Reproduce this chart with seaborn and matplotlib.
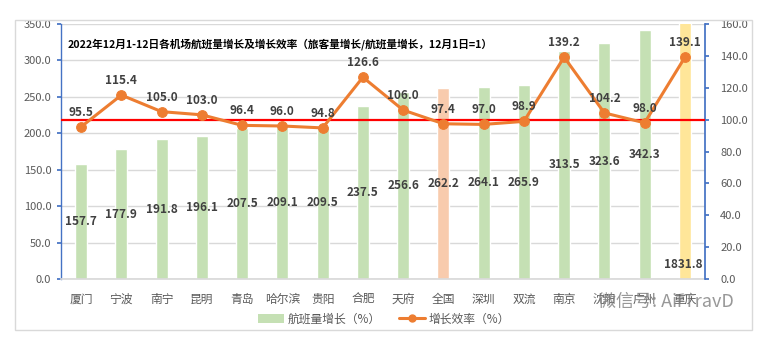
import numpy as np
import matplotlib
matplotlib.use("Agg")
import matplotlib.pyplot as plt
import seaborn as sns
from matplotlib.lines import Line2D
from matplotlib.patches import Patch, Rectangle

cities = ["厦门", "宁波", "南宁", "昆明", "青岛", "哈尔滨", "贵阳", "合肥", "天府",
          "全国", "深圳", "双流", "南京", "沈阳", "广州", "重庆"]
flight_growth = [157.7, 177.9, 191.8, 196.1, 207.5, 209.1, 209.5, 237.5, 256.6,
                 262.2, 264.1, 265.9, 313.5, 323.6, 342.3, 1831.8]
efficiency = [95.5, 115.4, 105.0, 103.0, 96.4, 96.0, 94.8, 126.6, 106.0,
              97.4, 97.0, 98.9, 139.2, 104.2, 98.0, 139.1]
left_ticks = [0, 50, 100, 150, 200, 250, 300, 350]
right_ticks = [0, 20, 40, 60, 80, 100, 120, 140, 160]
title = "2022年12月1-12日各机场航班量增长及增长效率（旅客量增长/航班量增长，12月1日=1）"

sns.set_theme(style="white")
plt.rcParams['font.family'] = ['Noto Sans CJK SC', 'DejaVu Sans']

GREEN = "#C5E0B4"
PEACH = "#F8CBAD"
YELLOW = "#FFE699"
ORANGE = "#ED7D31"
GRAY = "#595959"
AXBLUE = "#4472C4"

bar_colors = [GREEN] * len(cities)
bar_colors[cities.index("全国")] = PEACH
bar_colors[cities.index("重庆")] = YELLOW

fig = plt.figure(figsize=(7.78, 3.46), dpi=100)
ax = fig.add_axes([61/778, 1-279/346, 644/778, 255/346])

sns.barplot(x=cities, y=flight_growth, hue=cities, palette=bar_colors,
            legend=False, width=0.3, ax=ax, saturation=1, zorder=2)
ax.set_ylim(0, 350)
ax.set_xlim(-0.5, len(cities) - 0.5)
ax.set_yticks(left_ticks)
ax.set_yticklabels([f"{v:.1f}" for v in left_ticks], color=GRAY, fontsize=8)
ax.tick_params(axis="x", length=0, labelsize=8.5, labelcolor=GRAY, pad=10)
ax.tick_params(axis="y", length=3, direction="out", color=AXBLUE, pad=4, left=True)
ax.grid(axis="y", color="#D9D9D9", linewidth=1, zorder=0)
ax.set_axisbelow(True)
for s in ["top", "right"]:
    ax.spines[s].set_visible(False)
ax.spines["bottom"].set_color("#D9D9D9")
ax.spines["left"].set_color(AXBLUE)
ax.spines["left"].set_linewidth(1)

for i, v in enumerate(flight_growth):
    if v <= 350:
        ax.text(i, v / 2, f"{v:.1f}", ha="center", va="center", fontsize=8.5,
                fontweight="bold", color="#404040", zorder=5)
    else:
        ax.text(i + 0.45, 20, f"{v:.1f}", ha="right", va="center", fontsize=8.5,
                fontweight="bold", color="#404040", zorder=5)

ax2 = ax.twinx()
sns.lineplot(x=np.arange(len(cities)), y=efficiency, color=ORANGE, linewidth=2.2,
             marker="o", markersize=7, markeredgecolor=ORANGE, ax=ax2, zorder=4)
ax2.axhline(100, color="#FF0000", linewidth=1.6, zorder=3)
ax2.set_ylim(0, 160)
ax2.set_yticks(right_ticks)
ax2.set_yticklabels([f"{v:.1f}" for v in right_ticks], color=GRAY, fontsize=8)
ax2.tick_params(axis="y", length=3, direction="out", color=AXBLUE, pad=8, right=True)
for s in ["top", "left", "bottom"]:
    ax2.spines[s].set_visible(False)
ax2.spines["right"].set_color(AXBLUE)
ax2.grid(False)
for i, v in enumerate(efficiency):
    ax2.text(i, v + 5, f"{v:.1f}", ha="center", va="bottom", fontsize=8.5,
             fontweight="bold", color="#404040", zorder=6)

ax.text(0.01, 0.92, title, transform=ax.transAxes, fontsize=7.7, fontweight="bold",
        color="#000000", ha="left", va="center", zorder=7)

handles = [Patch(facecolor=GREEN, edgecolor="none"),
           Line2D([0], [0], color=ORANGE, linewidth=2.2, marker="o", markersize=5)]
fig.legend(handles, ["航班量增长（%）", "增长效率（%）"], loc="center",
           bbox_to_anchor=(384/778, 1 - 319/346), ncol=2, frameon=False,
           fontsize=8.5, labelcolor=GRAY, handlelength=2.2, columnspacing=1.6,
           handletextpad=0.3)

fig.text(598/778, 1 - 302/346, "微信号: AirTravD", fontsize=13, color="#7F7F7F",
         alpha=0.8, ha="left", va="center", zorder=10)

fig.patches.append(Rectangle((15/778, 1 - 330/346), (752 - 15)/778, (330 - 20)/346,
                             transform=fig.transFigure, fill=False,
                             edgecolor="#D9D9D9", linewidth=1))

fig.savefig("out.png", dpi=100)
